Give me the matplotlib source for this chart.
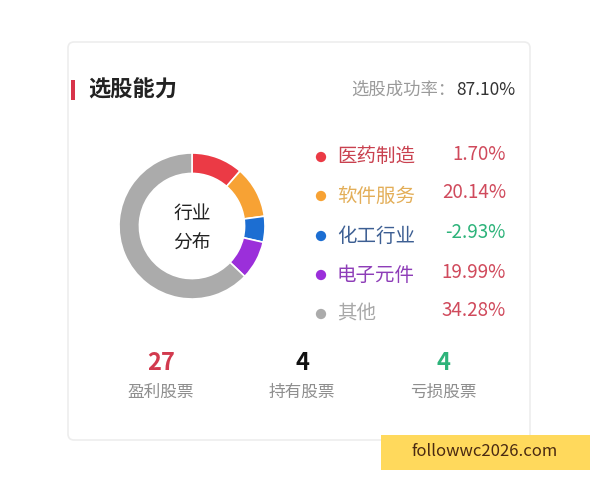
import matplotlib
matplotlib.use('Agg')
import matplotlib.pyplot as plt
from matplotlib.patches import FancyBboxPatch, Rectangle

plt.rcParams['font.family'] = ['Noto Sans CJK SC', 'DejaVu Sans']

# data
industries = ['医药制造', '软件服务', '化工行业', '电子元件', '其他']
shares = [4, 4, 2, 3, 22]
returns = [1.70, 20.14, -2.93, 19.99, 34.28]
slice_colors = ['#EB3A45', '#F7A234', '#1C6ED2', '#9B2FDA', '#ABABAB']
label_colors = ['#C9414F', '#E3AE58', '#3D5F93', '#8E3DB8', '#A8A8A8']
success_rate = 87.10
counts = [27, 4, 4]
count_labels = ['盈利股票', '持有股票', '亏损股票']
count_colors = ['#D23A4E', '#111111', '#2DB37A']

W, H = 600, 480
fig = plt.figure(figsize=(6, 4.8), dpi=100)
fig.patch.set_facecolor('white')

# full-figure axes in pixel coords
ax = fig.add_axes([0, 0, 1, 1])
ax.set_xlim(0, W)
ax.set_ylim(H, 0)
ax.axis('off')

# card
card = FancyBboxPatch((68, 42), 462, 398, boxstyle='round,pad=0,rounding_size=6',
                      facecolor='white', edgecolor='#EDEDED', linewidth=1.2)
ax.add_patch(card)

# header
ax.add_patch(Rectangle((71, 80), 4, 20, facecolor='#D8344A', edgecolor='none'))
ax.text(88, 90, '选股能力', fontsize=16, fontweight='bold', color='#222222',
        va='center', ha='left')
ax.text(455, 90, '选股成功率：', fontsize=12.5, color='#9A9A9A', va='center', ha='right')
ax.text(515, 90, f'{success_rate:.2f}%', fontsize=12.5, color='#333333', va='center', ha='right')

# legend rows
row_y = [157, 196, 236, 275, 314]
for i, name in enumerate(industries):
    y = row_y[i]
    ax.scatter([321], [y], s=55, color=slice_colors[i], edgecolors='none', zorder=3)
    ax.text(337, y, name, fontsize=14, color=label_colors[i], va='center', ha='left')
    vcol = '#2DB37A' if returns[i] < 0 else '#D04A5C'
    ax.text(506, y - 3, f'{returns[i]:.2f}%', fontsize=13.5, color=vcol, va='center', ha='right')

# bottom counts
col_x = [161, 302, 443]
for i in range(3):
    ax.text(col_x[i], 363, str(counts[i]), fontsize=17, fontweight='bold',
            color=count_colors[i], va='center', ha='center')
    ax.text(col_x[i], 392, count_labels[i], fontsize=12, color='#8E8E8E',
            va='center', ha='center')

# watermark
ax.add_patch(Rectangle((381, 435), 209, 35, facecolor='#FFD95C', edgecolor='none', zorder=5))
ax.text(485, 452, 'followwc2026.com', fontsize=12, color='#4A2A12', va='center',
        ha='center', zorder=6)

# donut
cx, cy, r = 192, 226, 73
pax = fig.add_axes([(cx - r) / W, (H - cy - r) / H, 2 * r / W, 2 * r / H])
pax.pie(shares, colors=slice_colors, startangle=90, counterclock=False,
        radius=1.0, wedgeprops=dict(width=0.28, edgecolor='white', linewidth=1.2))
pax.set_xlim(-1, 1)
pax.set_ylim(-1, 1)
pax.set_aspect('equal')
pax.axis('off')
pax.text(0, 0.17, '行业', fontsize=13.5, color='#222222', ha='center', va='center')
pax.text(0, -0.23, '分布', fontsize=13.5, color='#222222', ha='center', va='center')

fig.savefig('out.png', dpi=100)
